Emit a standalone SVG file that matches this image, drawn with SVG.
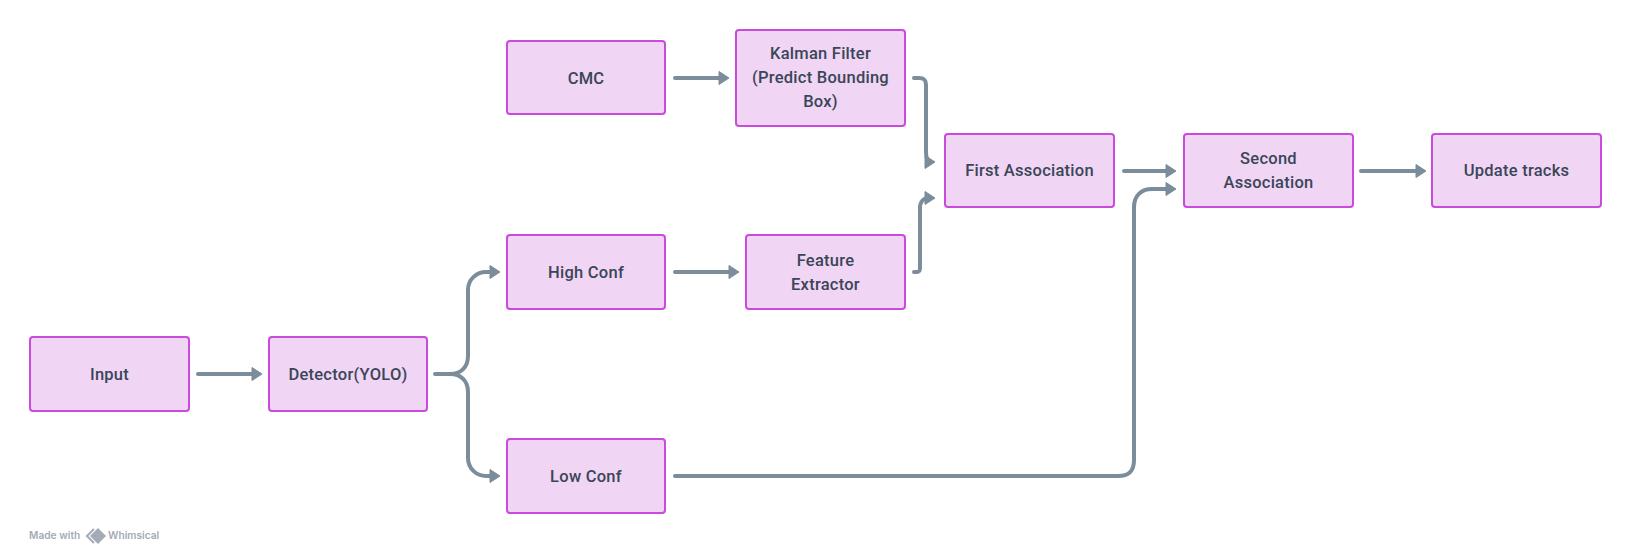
<svg xmlns="http://www.w3.org/2000/svg" width="1632" height="558" viewBox="0 0 1632 558">
<style>
.n rect{fill:#f0d5f5;stroke:#c94adc;stroke-width:2}
.n text{font-family:"Roboto","Liberation Sans",sans-serif;font-size:16.500px;font-weight:500;letter-spacing:.25px;fill:#3a4657;text-anchor:middle}
.c path{fill:none;stroke:#7b8c9b;stroke-width:4;stroke-linecap:round;stroke-linejoin:round}
.h polygon{fill:#7b8c9b;stroke:#7b8c9b;stroke-width:1;stroke-linejoin:round}
.w{font-family:"Inter","Liberation Sans",sans-serif;font-size:10.200px;font-weight:600;fill:#a3abb6}
</style>
<rect width="1632" height="558" fill="#ffffff"/>
<g id="connectors" class="c">
<path d="M198 374H255"/>
<path d="M435 374H450C461 374 468 367 468 356V290C468 279 477 272 486 272H494"/>
<path d="M450 374C461 374 468 381 468 392V458C468 469 477 476 486 476H494"/>
<path d="M675 272H732"/>
<path d="M675 78H722"/>
<path d="M914 78H919C924 78 926 80 926 85V152C926 158 928 162 931 162"/>
<path d="M914 272H916C919 272 920 271 920 268V208C920 202 923 198 929 198"/>
<path d="M675 476H1118C1129 476 1134 471 1134 460V207C1134 196 1141 189 1152 189H1170"/>
<path d="M1124 171H1170"/>
<path d="M1361 171H1418"/>
</g>
<g class="h">
<polygon points="262,374 252,367.500 252,380.500"/>
<polygon points="500,272 490,265.500 490,278.500"/>
<polygon points="500,476 490,469.500 490,482.500"/>
<polygon points="739,272 729,265.500 729,278.500"/>
<polygon points="729,78 719,71.500 719,84.500"/>
<polygon points="935,162 925,155.500 925,168.500"/>
<polygon points="935,198 925,191.500 925,204.500"/>
<polygon points="1176,171 1166,164.500 1166,177.500"/>
<polygon points="1176,189 1166,182.500 1166,195.500"/>
<polygon points="1426,171 1416,164.500 1416,177.500"/>
</g>
<g id="input" class="n"><rect x="30" y="337" width="159" height="74" rx="3"/><text x="109.500" y="380">Input</text></g>
<g id="detector" class="n"><rect x="269" y="337" width="158" height="74" rx="3"/><text x="348" y="380">Detector(YOLO)</text></g>
<g id="high-conf" class="n"><rect x="507" y="235" width="158" height="74" rx="3"/><text x="586" y="278">High Conf</text></g>
<g id="low-conf" class="n"><rect x="507" y="439" width="158" height="74" rx="3"/><text x="586" y="482">Low Conf</text></g>
<g id="cmc" class="n"><rect x="507" y="41" width="158" height="73" rx="3"/><text x="586" y="84">CMC</text></g>
<g id="kalman" class="n"><rect x="736" y="30" width="169" height="96" rx="3"/><text x="820.500" y="59">Kalman Filter</text><text x="820.500" y="83">(Predict Bounding</text><text x="820.500" y="107">Box)</text></g>
<g id="feature" class="n"><rect x="746" y="235" width="159" height="74" rx="3"/><text x="825.500" y="266">Feature</text><text x="825.500" y="290">Extractor</text></g>
<g id="first" class="n"><rect x="945" y="134" width="169" height="73" rx="3"/><text x="1029.500" y="176">First Association</text></g>
<g id="second" class="n"><rect x="1184" y="134" width="169" height="73" rx="3"/><text x="1268.500" y="164">Second</text><text x="1268.500" y="188">Association</text></g>
<g id="update" class="n"><rect x="1432" y="134" width="169" height="73" rx="3"/><text x="1516.500" y="176">Update tracks</text></g>
<g id="watermark">
<text class="w" x="29" y="539">Made with</text>
<path d="M94 529L87 536L94 543" fill="none" stroke="#a3abb6" stroke-width="2"/>
<polygon points="98,528 106,536 98,544 90,536" fill="#a3abb6"/>
<text class="w" x="108" y="539">Whimsical</text>
</g>
</svg>
